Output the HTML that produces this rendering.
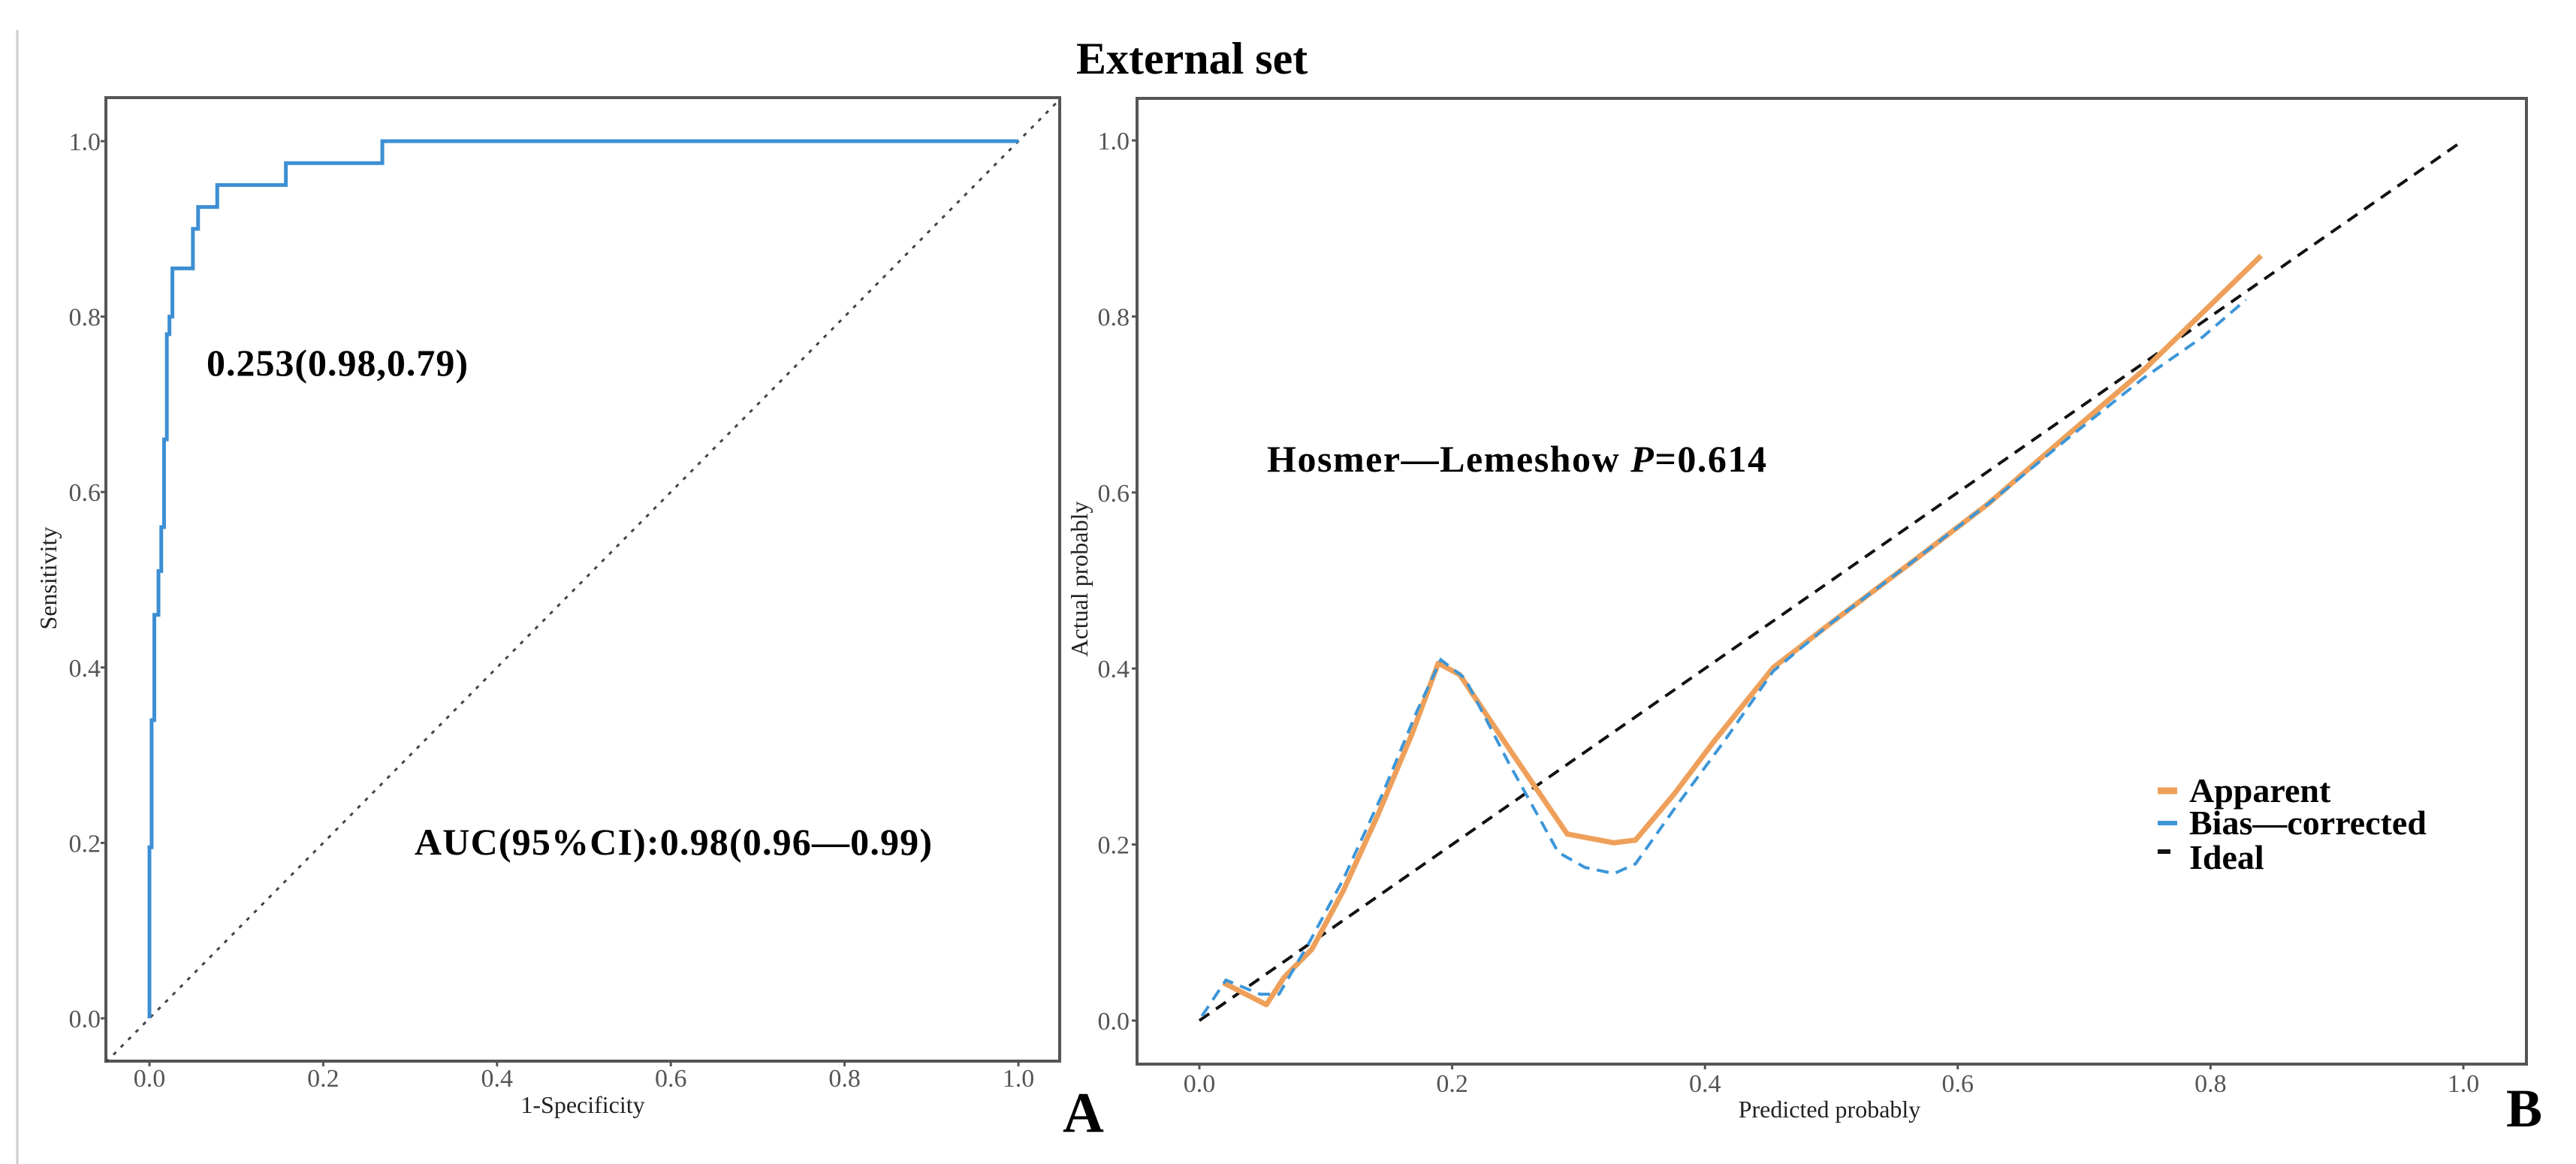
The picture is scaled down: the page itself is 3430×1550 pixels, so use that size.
<!DOCTYPE html>
<html><head><meta charset="utf-8"><style>
html,body{margin:0;padding:0;background:#fff;}
svg{display:block;font-family:"Liberation Serif",serif;}
.tk{fill:#555;font-size:34px;}
.lab{fill:#222;font-size:32px;}
.b{font-weight:bold;fill:#000;}
</style></head><body>
<svg id="s" width="3430" height="1550" viewBox="0 0 3430 1550" xmlns="http://www.w3.org/2000/svg">
<rect width="3430" height="1550" fill="#fff"/>
<line x1="23" y1="40" x2="23" y2="1550" stroke="#ccc" stroke-width="3"/>
<text x="1433" y="98" class="b" font-size="60">External set</text>
<g id="pA"></g>
<g id="pB"></g>
<text x="1415" y="1507" class="b" font-size="76">A</text>
<text x="3337" y="1500" class="b" font-size="72">B</text>
</svg>
<script>
const ticks=[0,0.2,0.4,0.6,0.8,1.0];
const tickLabels=["0.0","0.2","0.4","0.6","0.8","1.0"];
const rocFpr=[0,0.0025,0.0056,0.0104,0.0136,0.0168,0.02,0.023,0.0264,0.05,0.056,0.078,0.157,0.268,1.0];
const rocTpr=[0,0.195,0.34,0.46,0.51,0.56,0.66,0.78,0.80,0.855,0.90,0.925,0.95,0.975,1.0];
const appX=[0.019,0.053,0.067,0.089,0.114,0.141,0.168,0.189,0.206,0.245,0.291,0.328,0.345,0.376,0.407,0.454,0.5,0.562,0.624,0.685,0.747,0.84];
const appY=[0.043,0.018,0.049,0.081,0.148,0.233,0.325,0.406,0.393,0.309,0.212,0.202,0.205,0.258,0.317,0.401,0.452,0.519,0.587,0.663,0.739,0.869];
const biasX=[0.002,0.021,0.048,0.063,0.087,0.114,0.145,0.172,0.191,0.21,0.245,0.284,0.305,0.328,0.345,0.376,0.415,0.454,0.5,0.562,0.624,0.685,0.747,0.794,0.828];
const biasY=[0.005,0.046,0.030,0.03,0.089,0.161,0.258,0.351,0.41,0.389,0.292,0.191,0.174,0.167,0.178,0.241,0.317,0.397,0.452,0.519,0.587,0.659,0.73,0.777,0.819];
const NS='http://www.w3.org/2000/svg';
function mk(p,t,a){const e=document.createElementNS(NS,t);for(const k in a)e.setAttribute(k,a[k]);p.appendChild(e);return e;}
function panel(g,fr,x0,x1,y0,y1,tlx,tly){
 const sx=v=>x0+(x1-x0)*v, sy=v=>y0+(y1-y0)*v;
 const f=mk(g,'rect',{x:fr[0],y:fr[1],width:fr[2]-fr[0],height:fr[3]-fr[1],fill:'none',stroke:'#555','stroke-width':4});
 
 
 ticks.forEach((t,i)=>{
  const a=mk(g,'line',{x1:sx(t),x2:sx(t),y1:fr[3],y2:fr[3]+7,stroke:'#555','stroke-width':3});
  
  
  const b=mk(g,'line',{x1:fr[0]-7,x2:fr[0],y1:sy(t),y2:sy(t),stroke:'#555','stroke-width':3});
  
  
  const tx=mk(g,'text',{x:sx(t),y:tly,'text-anchor':'middle',class:'tk'});tx.textContent=tickLabels[i];
  
  
  const ty=mk(g,'text',{x:tlx,y:sy(t)+12,'text-anchor':'end',class:'tk'});ty.textContent=tickLabels[i];
  
  
 });
 return [sx,sy];
}
const gA=document.getElementById('pA');
const [ax,ay]=panel(gA,[141,130,1411,1413],199,1356,1356,188,134,1447);
const dA=mk(gA,'line',{x1:ax(-0.05),y1:ay(-0.05),x2:1411,y2:ay((1411-ax(0))/(ax(1)-ax(0))),stroke:'#444','stroke-width':3,'stroke-dasharray':'5 9'});


let d='M'+ax(rocFpr[0])+','+ay(rocTpr[0]);
for(let i=1;i<rocFpr.length;i++){d+=' L'+ax(rocFpr[i-1])+','+ay(rocTpr[i])+' L'+ax(rocFpr[i])+','+ay(rocTpr[i]);}
const rc=mk(gA,'path',{d:d,fill:'none',stroke:'#3d8fd4','stroke-width':5});


let t=mk(gA,'text',{x:275,y:500,class:'b','font-size':50,textLength:348});t.textContent='0.253(0.98,0.79)';


t=mk(gA,'text',{x:552,y:1138,class:'b','font-size':50,textLength:689});t.textContent='AUC(95%CI):0.98(0.96—0.99)';


t=mk(gA,'text',{x:776,y:1482,'text-anchor':'middle',class:'lab'});t.textContent='1-Specificity';


t=mk(gA,'text',{x:0,y:0,'text-anchor':'middle',class:'lab',transform:'translate(75,770) rotate(-90)'});t.textContent='Sensitivity';



const gB=document.getElementById('pB');
const [bx,by]=panel(gB,[1514,131,3364,1417],1597,3280,1359,187,1504,1454);
const id=mk(gB,'line',{x1:bx(0),y1:by(0),x2:bx(1),y2:by(1),stroke:'#111','stroke-width':4,'stroke-dasharray':'16 11'});


function pl(xs,ys){return xs.map((v,i)=>bx(v)+','+by(ys[i])).join(' ');}
const ap=mk(gB,'polyline',{points:pl(appX,appY),fill:'none',stroke:'#eea05a','stroke-width':7,'stroke-linejoin':'round'});


const bc=mk(gB,'polyline',{points:pl(biasX,biasY),fill:'none',stroke:'#3d96d8','stroke-width':4,'stroke-dasharray':'16 10'});


t=mk(gB,'text',{x:1687,y:628,class:'b','font-size':50,textLength:665});
t.innerHTML='Hosmer—Lemeshow <tspan font-style="italic">P</tspan>=0.614';


const leg=[['Apparent','#eea05a',1053,7],['Bias—corrected','#3d96d8',1096,4],['Ideal','#111',1142,4]];
leg.forEach((l,i)=>{
 const k=mk(gB,'line',{x1:2873,x2:i==2?2890:2899,y1:l[2]+(i==2?-8:0),y2:l[2]+(i==2?-8:0),stroke:l[1],'stroke-width':l[3]+2});
 
 
 const tx=mk(gB,'text',{x:2915,y:l[2]+15,class:'b','font-size':46});tx.textContent=l[0];
 
 
});
t=mk(gB,'text',{x:2436,y:1488,'text-anchor':'middle',class:'lab'});t.textContent='Predicted probably';


t=mk(gB,'text',{x:0,y:0,'text-anchor':'middle',class:'lab',transform:'translate(1448,771) rotate(-90)'});t.textContent='Actual probably';


</script>
</body></html>
